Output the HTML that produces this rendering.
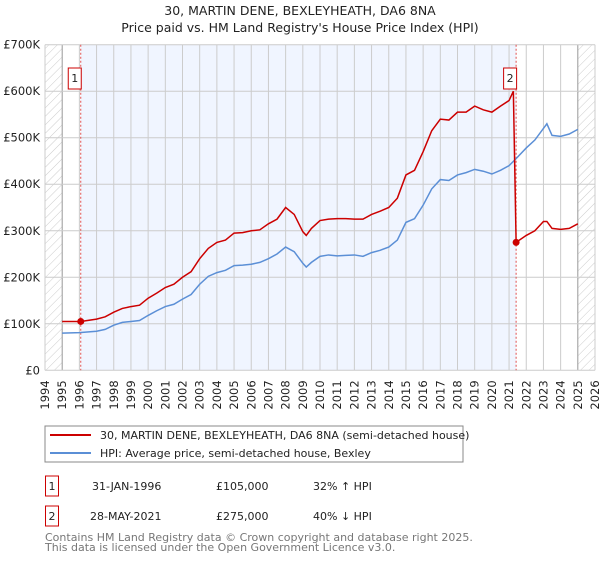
<!DOCTYPE html>
<html><head><meta charset="utf-8"><style>
body{margin:0;background:#fff;font-family:"Liberation Sans","DejaVu Sans",sans-serif;}
svg text{font-family:"DejaVu Sans","Liberation Sans",sans-serif;}
</style></head><body>
<svg width="600" height="560" xmlns="http://www.w3.org/2000/svg">
<defs><pattern id="hatch" width="6" height="6" patternUnits="userSpaceOnUse" patternTransform="rotate(45)"><line x1="0" y1="0" x2="0" y2="6" stroke="#ccc" stroke-width="1"/></pattern></defs>
<text x="300" y="15" text-anchor="middle" font-size="12.5" fill="#222">30, MARTIN DENE, BEXLEYHEATH, DA6 8NA</text>
<text x="300" y="32" text-anchor="middle" font-size="12.5" fill="#222">Price paid vs. HM Land Registry's House Price Index (HPI)</text>
<g id="plot"></g>
<g>
<rect x="45" y="426" width="418" height="36" fill="#fff" stroke="#888"/>
<line x1="50" y1="435" x2="91" y2="435" stroke="#cc0000" stroke-width="2"/>
<text x="100" y="439" font-size="11" fill="#222">30, MARTIN DENE, BEXLEYHEATH, DA6 8NA (semi-detached house)</text>
<line x1="50" y1="453" x2="91" y2="453" stroke="#5b8fd6" stroke-width="2"/>
<text x="100" y="457" font-size="11" fill="#222">HPI: Average price, semi-detached house, Bexley</text>
</g>
<g font-size="11" fill="#222">
<rect x="45.5" y="476" width="13" height="20" fill="#fff" stroke="#cc0000"/><text x="52" y="490" text-anchor="middle">1</text>
<text x="92" y="490">31-JAN-1996</text><text x="216" y="490">£105,000</text><text x="313" y="490">32% ↑ HPI</text>
<rect x="45.5" y="506" width="13" height="20" fill="#fff" stroke="#cc0000"/><text x="52" y="520" text-anchor="middle">2</text>
<text x="90" y="520">28-MAY-2021</text><text x="216" y="520">£275,000</text><text x="313" y="520">40% ↓ HPI</text>
</g>
<text x="45" y="541" font-size="11" fill="#777">Contains HM Land Registry data © Crown copyright and database right 2025.</text>
<text x="45" y="551" font-size="11" fill="#777">This data is licensed under the Open Government Licence v3.0.</text>
</svg>
<script>
const hpiYears=[1995,1996,1997,1997.5,1998,1998.5,1999,1999.5,2000,2000.5,2001,2001.5,2002,2002.5,2003,2003.5,2004,2004.5,2005,2005.5,2006,2006.5,2007,2007.5,2008,2008.5,2009,2009.2,2009.5,2010,2010.5,2011,2011.5,2012,2012.5,2013,2013.5,2014,2014.5,2015,2015.5,2016,2016.5,2017,2017.5,2018,2018.5,2019,2019.5,2020,2020.5,2021,2021.41,2022,2022.5,2023,2023.2,2023.5,2024,2024.5,2025];
const hpiValues=[80,81,84,88,97,103,105,107,118,128,137,142,153,163,185,202,210,215,225,226,228,232,240,250,265,255,230,222,232,245,248,246,247,248,245,253,258,265,280,318,326,355,390,410,408,420,425,432,428,422,430,440,455,478,495,520,530,505,503,508,518];
const priceYears=[1995,1996.08,1997,1997.5,1998,1998.5,1999,1999.5,2000,2000.5,2001,2001.5,2002,2002.5,2003,2003.5,2004,2004.5,2005,2005.5,2006,2006.5,2007,2007.5,2008,2008.5,2009,2009.2,2009.5,2010,2010.5,2011,2011.5,2012,2012.5,2013,2013.5,2014,2014.5,2015,2015.5,2016,2016.5,2017,2017.5,2018,2018.5,2019,2019.5,2020,2020.5,2021,2021.25,2021.41,2022,2022.5,2023,2023.2,2023.5,2024,2024.5,2025];
const priceValues=[105,105,110,115,125,133,137,140,155,166,178,185,200,212,240,262,275,280,295,296,300,302,315,325,350,335,298,290,305,322,325,326,326,325,325,335,342,350,370,420,430,470,515,540,538,555,555,568,560,555,568,580,600,275,290,300,320,320,305,303,305,315];
const saleYears=[1996.08,2021.41];
const saleValues=[105,275];
const saleLabels=["1","2"];
const yTicks=[0,100,200,300,400,500,600,700];
const yTickLabels=["£0","£100K","£200K","£300K","£400K","£500K","£600K","£700K"];
const xTicks=[1994,1995,1996,1997,1998,1999,2000,2001,2002,2003,2004,2005,2006,2007,2008,2009,2010,2011,2012,2013,2014,2015,2016,2017,2018,2019,2020,2021,2022,2023,2024,2025,2026];

const NS="http://www.w3.org/2000/svg";
const X0=45,X1=595,Y0=370.3,Y1=44.7;
const xs=y=>X0+(y-1994)/(2026-1994)*(X1-X0);
const ys=v=>Y0-v/700*(Y0-Y1);
const plot=document.getElementById('plot');
function mk(tag,attrs){const e=document.createElementNS(NS,tag);for(const k in attrs)e.setAttribute(k,attrs[k]);plot.appendChild(e);return e;}
let r=mk('rect',{x:X0,y:Y1,width:X1-X0,height:Y0-Y1,fill:'#fff'});


r=mk('rect',{x:xs(saleYears[0]),y:Y1,width:xs(saleYears[1])-xs(saleYears[0]),height:Y0-Y1,fill:'#f0f5ff'});


r=mk('rect',{x:X0,y:Y1,width:xs(1995)-X0,height:Y0-Y1,fill:'url(#hatch)'});


r=mk('rect',{x:xs(2025),y:Y1,width:X1-xs(2025),height:Y0-Y1,fill:'url(#hatch)'});


xTicks.forEach(t=>{
  const l=mk('line',{x1:xs(t),x2:xs(t),y1:Y1,y2:Y0,stroke:(t==1995||t==2025)?'#999':'#ccc','stroke-width':1});
  
  
  const tx=mk('text',{x:0,y:0,'font-size':11.5,fill:'#222','text-anchor':'end',transform:`translate(${xs(t)+4},${Y0+10}) rotate(-90)`});
  tx.textContent=t;
  
  
});
yTicks.forEach((t,i)=>{
  const l=mk('line',{x1:X0,x2:X1,y1:ys(t),y2:ys(t),stroke:'#ccc','stroke-width':1});
  
  
  const tx=mk('text',{x:X0-5,y:ys(t)+4,'font-size':11.5,fill:'#222','text-anchor':'end'});
  tx.textContent=yTickLabels[i];
  
  
});
saleYears.forEach((y,i)=>{
  const l=mk('line',{x1:xs(y),x2:xs(y),y1:Y1,y2:Y0,stroke:'#e05050','stroke-width':1,'stroke-dasharray':'2,2'});
  
  
});
let p=mk('polyline',{points:hpiYears.map((y,i)=>xs(y)+','+ys(hpiValues[i])).join(' '),fill:'none',stroke:'#5b8fd6','stroke-width':1.5});


p=mk('polyline',{points:priceYears.map((y,i)=>xs(y)+','+ys(priceValues[i])).join(' '),fill:'none',stroke:'#cc0000','stroke-width':1.5});


saleYears.forEach((y,i)=>{
  const c=mk('circle',{cx:xs(y),cy:ys(saleValues[i]),r:3.5,fill:'#cc0000'});
  
  
  const b=mk('rect',{x:xs(y)-12.5,y:68,width:13,height:21,fill:'#fff',stroke:'#cc0000'});
  
  
  const t=mk('text',{x:xs(y)-6,y:82,'font-size':11,fill:'#222','text-anchor':'middle'});
  t.textContent=saleLabels[i];
  
  
});
</script>
</body></html>
